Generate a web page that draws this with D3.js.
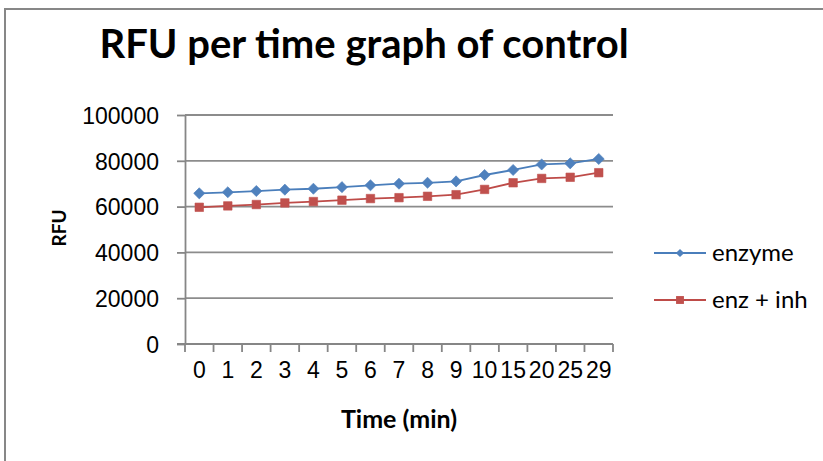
<!DOCTYPE html>
<html lang="en">
<head>
  <meta charset="utf-8" />
  <title>RFU per time graph of control</title>
  <script src="https://d3js.org/d3.v7.min.js"></script>
  <style>
    body{margin:0;background:#fff;}
    svg{display:block;font-family:Lato,"Open Sans",sans-serif;}
    .grid line{stroke:#8c8c8c;stroke-width:1.8px;}
    .axis path,.axis line{stroke:#868686;stroke-width:1.8px;}
    .axis text{font-size:23px;fill:#000;}
  </style>
</head>
<body>
<svg id="chart" width="823" height="461"></svg>
<script>
// -------------- DATA --------------
const times=['0','1','2','3','4','5','6','7','8','9','10','15','20','25','29'];
const enzyme=[65800,66250,66800,67400,67800,68500,69300,70000,70400,71000,73800,76000,78400,78900,80800];
const enzInh=[59700,60300,60900,61600,62200,62800,63500,63900,64500,65200,67500,70400,72300,72800,74800];
const yTicks=[0,20000,40000,60000,80000,100000];
// diamond = square turned 45 degrees
const series=[
  {name:'enzyme',values:enzyme,color:'#4a7ebb',fill:'#4f81bd',rot:45,size:62,legSize:34},
  {name:'enz + inh',values:enzInh,color:'#be4b48',fill:'#c0504d',rot:0,size:72,legSize:62}
];

// -------------- LAYOUT --------------
const plot={left:185,right:613,top:115,bottom:344};
const svg=d3.select('#chart');

// outer chart border (only top and left edges visible)
svg.append('rect').attr('x',5).attr('y',9).attr('width',900).attr('height',500)
  .attr('fill','#fff').attr('stroke','#878787').attr('stroke-width',2);

const x=d3.scaleBand().domain(times).range([plot.left,plot.right]).padding(0);
const y=d3.scaleLinear().domain([0,100000]).range([plot.bottom,plot.top]);

// gridlines
svg.append('g').attr('class','grid').selectAll('line').data(yTicks.filter(d=>d>0)).enter().append('line')
  .attr('x1',plot.left).attr('x2',plot.right).attr('y1',d=>y(d)).attr('y2',d=>y(d));

// y axis
const yAxis=svg.append('g').attr('class','axis').attr('transform',`translate(${plot.left},0)`)
  .call(d3.axisLeft(y).tickValues(yTicks).tickFormat(d3.format('d')).tickSize(8).tickSizeOuter(0).tickPadding(18));
yAxis.selectAll('text').attr('dy','0.36em');

// x axis: labels centred in bands, tick marks on band edges
const xAxis=svg.append('g').attr('class','axis').attr('transform',`translate(0,${plot.bottom})`)
  .call(d3.axisBottom(x).tickSize(0).tickPadding(18));
xAxis.select('.domain').remove();
xAxis.selectAll('text').attr('dy','0.71em');
const edges=times.map(t=>x(t)).concat([x(times[times.length-1])+x.bandwidth()]);
const xt=svg.append('g').attr('class','axis');
xt.append('line').attr('x1',plot.left-8).attr('x2',plot.right).attr('y1',plot.bottom).attr('y2',plot.bottom);
xt.selectAll('line.tk').data(edges).enter().append('line').attr('class','tk')
  .attr('x1',d=>d).attr('x2',d=>d).attr('y1',plot.bottom).attr('y2',plot.bottom+8);

// -------------- SERIES --------------
const cx=i=>x(times[i])+x.bandwidth()/2;
series.forEach(s=>{
  const line=d3.line().x((d,i)=>cx(i)).y(d=>y(d));
  svg.append('path').datum(s.values).attr('fill','none').attr('stroke',s.color).attr('stroke-width',1.8).attr('d',line);
  svg.append('g').selectAll('path').data(s.values).enter().append('path')
    .attr('d',d3.symbol().type(d3.symbolSquare).size(s.size))
    .attr('transform',(d,i)=>`translate(${cx(i)},${y(d)}) rotate(${s.rot})`)
    .attr('fill',s.fill).attr('stroke',s.fill).attr('stroke-width',0.6);
});

// -------------- TITLES --------------
svg.append('text').attr('x',364).attr('y',58).attr('text-anchor','middle')
  .style('font-size','40px').style('font-weight',700).text('RFU per time graph of control');
svg.append('text').attr('x',399).attr('y',428).attr('text-anchor','middle')
  .style('font-size','25px').style('font-weight',700).text('Time (min)');
svg.append('text').attr('transform','translate(66,228) rotate(-90)').attr('text-anchor','middle')
  .style('font-size','19px').style('font-weight',700).text('RFU');

// -------------- LEGEND --------------
const leg=svg.append('g');
series.forEach((s,i)=>{
  const ly=253+i*47;
  leg.append('line').attr('x1',654).attr('x2',706).attr('y1',ly).attr('y2',ly).attr('stroke',s.color).attr('stroke-width',1.8);
  leg.append('path').attr('d',d3.symbol().type(d3.symbolSquare).size(s.legSize))
    .attr('transform',`translate(680,${ly}) rotate(${s.rot})`).attr('fill',s.fill);
  leg.append('text').attr('x',712).attr('y',ly+8).style('font-size','24px').text(s.name);
});
</script>
</body>
</html>
